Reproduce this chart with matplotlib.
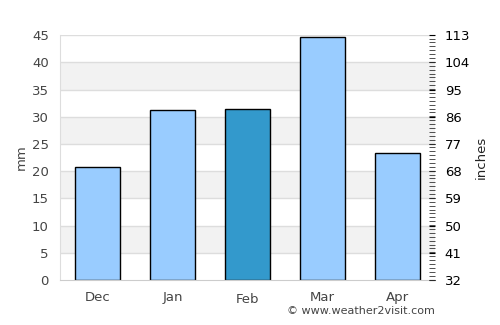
import matplotlib
matplotlib.use("Agg")
import matplotlib.pyplot as plt
from matplotlib.ticker import MultipleLocator
from matplotlib.transforms import ScaledTranslation

months = ["Dec", "Jan", "Feb", "Mar", "Apr"]
rain_mm = [20.7, 31.2, 31.4, 44.6, 23.4]
highlight = "Feb"
left_ticks = [0, 5, 10, 15, 20, 25, 30, 35, 40, 45]
right_ticks = [32, 41, 50, 59, 68, 77, 86, 95, 104, 113]

fig = plt.figure(figsize=(5, 3.25), dpi=100)
ax = fig.add_axes([0.12, 0.1385, 0.75, 0.7535])

# alternating bands
for i in range(len(left_ticks) - 1):
    if i % 2 == 1:
        ax.axhspan(left_ticks[i], left_ticks[i + 1], color="#f2f2f2", zorder=0, lw=0)
for t in left_ticks[1:]:
    ax.axhline(t, color="#dddddd", lw=1, zorder=0.5)

colors = ["#3399cc" if m == highlight else "#99ccff" for m in months]
x = list(range(len(months)))
ax.bar(x, rain_mm, width=0.6, color=colors, edgecolor="black", linewidth=1, zorder=2)

ax.set_xlim(-0.5, len(months) - 0.5)
ax.set_ylim(0, 45)
ax.set_yticks(left_ticks)
ax.set_xticks(x)
ax.set_xticklabels(months)
ax.tick_params(axis="y", length=0, labelsize=9.5, colors="#444444", pad=8)
ax.tick_params(axis="x", length=0, labelsize=9.5, colors="#444444", pad=8)
for lab in ax.get_yticklabels() + ax.get_xticklabels():
    lab.set_color("#444444")
for lab in ax.get_xticklabels():
    if lab.get_text() == highlight:
        lab.set_transform(lab.get_transform() + ScaledTranslation(0, -2 / 100, fig.dpi_scale_trans))
ax.spines["top"].set_visible(False)
ax.spines["right"].set_visible(False)
ax.spines["left"].set_color("#dddddd")
ax.spines["bottom"].set_color("#cccccc")
ax.set_ylabel("mm", fontsize=9.5, color="#444444", labelpad=3)

ax2 = ax.twinx()
ax2.set_ylim(32, 113)
ax2.set_yticks(right_ticks)
ax2.yaxis.set_minor_locator(MultipleLocator(9 / 7))
ax2.tick_params(axis="y", which="major", direction="in", length=4, width=0.8, labelsize=9.5, pad=7, colors="black")
ax2.tick_params(axis="y", which="minor", direction="in", length=4, width=0.6, color="#333333")
for s in ax2.spines.values():
    s.set_visible(False)
ax2.set_ylabel("inches", fontsize=9.5, color="#222222", labelpad=3)

fig.text(0.87, 0.027, "© www.weather2visit.com", ha="right", va="bottom", fontsize=8, color="#444444")

fig.savefig("out.png", dpi=100)
